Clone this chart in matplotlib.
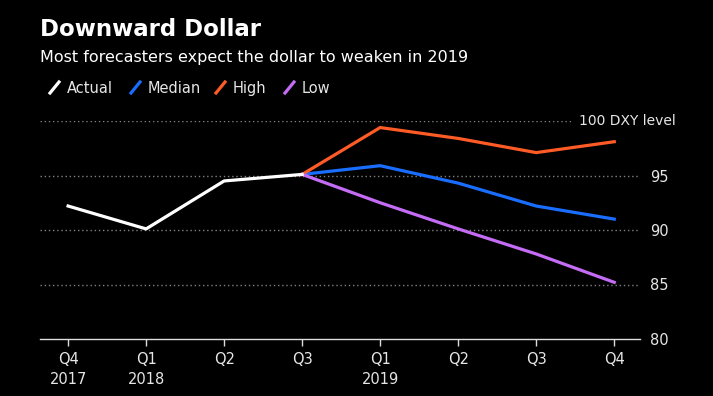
import matplotlib.pyplot as plt
from matplotlib.lines import Line2D

# quarters on the x axis
quarters = ['Q4\n2017', 'Q1\n2018', 'Q2', 'Q3', 'Q1\n2019', 'Q2', 'Q3', 'Q4']

# DXY values
actual = [92.2, 90.1, 94.5, 95.1]
median = [95.1, 95.9, 94.3, 92.2, 91.0]
high = [95.1, 99.4, 98.4, 97.1, 98.1]
low = [95.1, 92.5, 90.1, 87.8, 85.2]

series_names = ['Actual', 'Median', 'High', 'Low']
series_colors = ['#ffffff', '#1a6eff', '#ff5b26', '#c46cf5']

y_ticks = [80, 85, 90, 95]

fig = plt.figure(figsize=(7.13, 3.96), dpi=100, facecolor='black')
ax = fig.add_axes([40 / 713, 57 / 396, 600 / 713, 218 / 396])
ax.set_facecolor('black')

x_act = list(range(len(actual)))
x_fc = list(range(len(actual) - 1, len(quarters)))

ax.plot(x_act, actual, color=series_colors[0], lw=2.3, zorder=5)
ax.plot(x_fc, median, color=series_colors[1], lw=2.3, zorder=4)
ax.plot(x_fc, high, color=series_colors[2], lw=2.3, zorder=4)
ax.plot(x_fc, low, color=series_colors[3], lw=2.3, zorder=4)

ax.set_xlim(-0.36, 7.33)
ax.set_ylim(80, 100)

# dotted gridlines
for v in [85, 90, 95]:
    ax.axhline(v, color='#808080', lw=1, ls=(0, (1, 2)), zorder=1)
ax.plot([-0.36, 6.45], [100, 100], color='#808080', lw=1, ls=(0, (1, 2)), zorder=1)
ax.text(7.79, 100, '100 DXY level', color='#e6e6e6', fontsize=10, ha='right', va='center')

for s in ['top', 'left', 'right']:
    ax.spines[s].set_visible(False)
ax.spines['bottom'].set_color('#dddddd')
ax.spines['bottom'].set_linewidth(1)

ax.set_xticks(range(len(quarters)))
ax.set_xticklabels(quarters, color='#e6e6e6', fontsize=10.5, linespacing=1.5)
ax.tick_params(axis='x', colors='#dddddd', length=5, width=1, pad=4, labelcolor='#e6e6e6')

ax.yaxis.tick_right()
ax.set_yticks(y_ticks)
ax.set_yticklabels([str(v) for v in y_ticks])
ax.tick_params(axis='y', length=0, pad=7, labelcolor='#e6e6e6', labelsize=10.5)

# title and subtitle
fig.text(40 / 713, 1 - 36 / 396, 'Downward Dollar', color='white', fontsize=16.5,
         fontweight='bold', va='baseline', ha='left')
fig.text(40 / 713, 1 - 62 / 396, 'Most forecasters expect the dollar to weaken in 2019',
         color='white', fontsize=11.5, va='baseline', ha='left')

# legend with short slanted strokes
leg_x = [50, 131, 216, 285]
for name, col, lx in zip(series_names, series_colors, leg_x):
    fig.add_artist(Line2D([lx / 713, (lx + 9) / 713], [1 - 93 / 396, 1 - 82 / 396],
                          color=col, lw=2.3, transform=fig.transFigure))
    fig.text((lx + 17) / 713, 1 - 93 / 396, name, color='#e6e6e6', fontsize=10.5,
             va='baseline', ha='left')

fig.savefig('out.png', dpi=100, facecolor='black')
